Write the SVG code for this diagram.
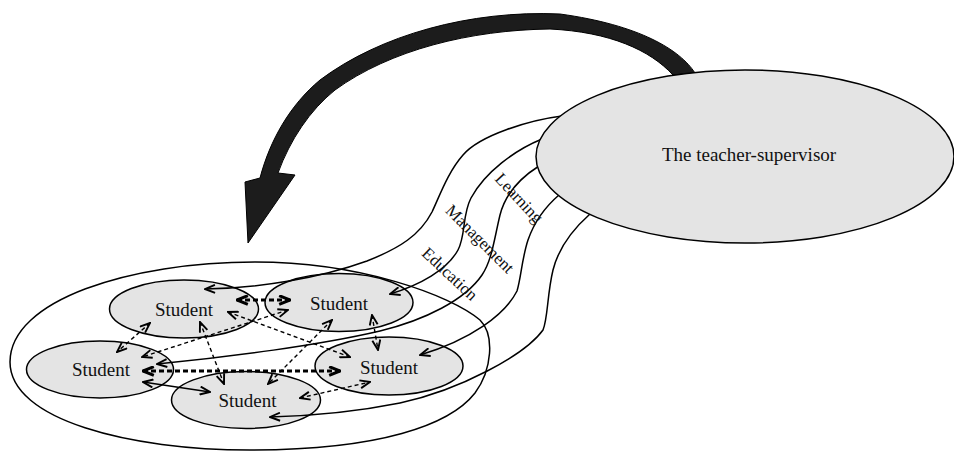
<svg xmlns="http://www.w3.org/2000/svg" width="954" height="451" viewBox="0 0 954 451">
<style>
.node{fill:#e4e4e4;stroke:#000;stroke-width:1.5}
.lbl{font-family:"Liberation Serif","Times New Roman",serif;font-size:19px;fill:#111;text-anchor:middle}
.rl{font-family:"Liberation Serif","Times New Roman",serif;font-size:17px;fill:#111;text-anchor:middle}
.ln{fill:none;stroke:#000;stroke-width:1.5}
.sol{marker-end:url(#ah)}
.dsh{fill:none;stroke:#000;stroke-width:1.4;stroke-dasharray:4 3;marker-start:url(#ah);marker-end:url(#ah)}
.dshb{fill:none;stroke:#000;stroke-width:3;stroke-dasharray:5 3;marker-start:url(#ahb);marker-end:url(#ahb)}
.dbl{marker-start:url(#ah);marker-end:url(#ah)}
</style>
<defs>
<marker id="ah" viewBox="0 0 12 10" refX="11" refY="5" markerWidth="12" markerHeight="10" markerUnits="userSpaceOnUse" orient="auto-start-reverse">
<path d="M1,1 L11,5 L1,9" fill="none" stroke="#000" stroke-width="1.9" stroke-dasharray="none"/>
</marker>
<marker id="ahb" viewBox="0 0 12 10" refX="11" refY="5" markerWidth="13" markerHeight="11" markerUnits="userSpaceOnUse" orient="auto-start-reverse">
<path d="M1,1 L11,5 L1,9" fill="none" stroke="#000" stroke-width="2.8" stroke-dasharray="none"/>
</marker>
</defs>
<rect width="954" height="451" fill="#fff"/>
<g id="group-outline">
<path d="M10,362 C10,300 130,262 255,262 C360,262 450,295 480,320 C495,335 492,370 475,393 C450,425 380,450 250,450 C130,450 10,420 10,362 Z" fill="none" stroke="#000" stroke-width="1.5"/>
</g>
<g id="student-1"><ellipse class="node" cx="184" cy="309" rx="74.5" ry="29"/><text class="lbl" x="184" y="316">Student</text></g>
<g id="student-2"><ellipse class="node" cx="339" cy="302.5" rx="74" ry="29"/><text class="lbl" x="339" y="310">Student</text></g>
<g id="student-3"><ellipse class="node" cx="100" cy="369.5" rx="73.5" ry="28.5"/><text class="lbl" x="101" y="376">Student</text></g>
<g id="student-4"><ellipse class="node" cx="389" cy="366" rx="74" ry="29"/><text class="lbl" x="389" y="374">Student</text></g>
<g id="student-5"><ellipse class="node" cx="246" cy="400" rx="74.5" ry="28.5"/><text class="lbl" x="247.5" y="407">Student</text></g>
<g id="connectors">
<path d="M695,73 C680,50 640,25 560,14 C470,10 380,35 320,80 C290,105 270,140 260,178 L245,182 L248,243 L295,175 L278,173 C290,140 310,110 335,90 C390,50 470,30 550,29 C610,32 650,50 673,75 Z" fill="#1c1c1c" stroke="#000" stroke-width="1"/>
<path class="ln sol" d="M562,116 C530,120 480,135 463,155 C448,172 440,195 432,212 C420,235 400,248 367,261 C320,278 260,288 205,289"/>
<path class="ln sol" d="M542,139 C515,150 485,172 471,198 C462,215 466,235 458,250 C447,270 420,285 390,294"/>
<path class="ln sol" d="M539,166 C520,178 505,195 500,215 C494,240 492,260 482,275 C465,300 425,320 380,331 C320,345 230,357 157,364"/>
<path class="ln sol" d="M559,195 C545,207 535,220 528,240 C522,258 521,278 517,291 C505,315 470,340 420,355"/>
<path class="ln sol" d="M590,214 C572,230 558,250 553,270 C547,295 548,318 543,330 C525,355 460,390 400,403 C360,411 310,416 270,417"/>
<path class="dshb" d="M237,300 L290,300"/>
<path class="dsh" d="M228,312 L350,357"/>
<path class="dsh" d="M150,323 L117,352"/>
<path class="dsh" d="M200,322 L224,384"/>
<path class="dsh" d="M288,310 L142,357"/>
<path class="dsh" d="M332,320 L268,384"/>
<path class="dsh" d="M372,315 L378,350"/>
<path class="dshb" d="M143,371 L340,371"/>
<path class="ln dbl" d="M143,382 L210,392"/>
<path class="dsh" d="M300,398 L370,382"/>
</g>
<g id="teacher"><ellipse class="node" cx="745" cy="156.5" rx="209" ry="86.5"/><text class="lbl" x="749" y="161">The teacher-supervisor</text></g>
<g id="labels">
<text class="rl" transform="translate(515,202) rotate(47)">Learning</text>
<text class="rl" transform="translate(476,243) rotate(45)">Management</text>
<text class="rl" transform="translate(446,278) rotate(43)">Education</text>
</g>
</svg>
